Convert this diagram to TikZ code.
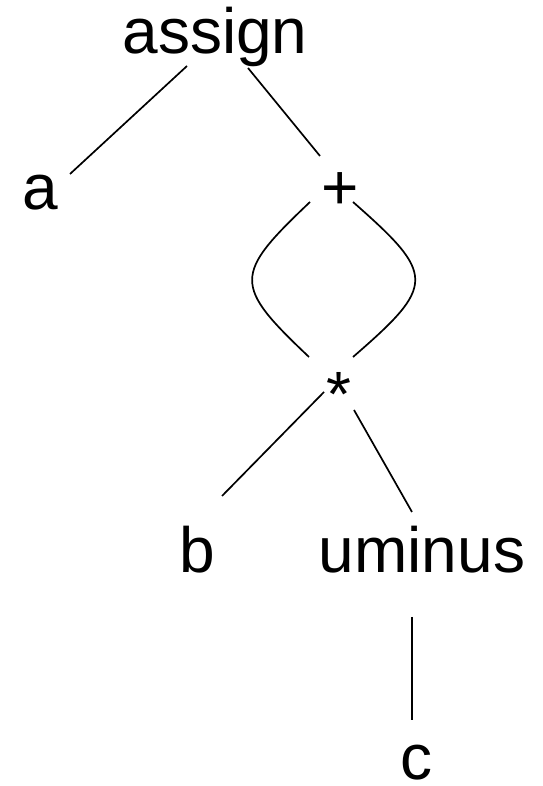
\documentclass[tikz,border=0pt]{standalone}
\usepackage{fontspec}
\setmainfont{Liberation Sans}
\usepackage{tikz}

\begin{document}
\begin{tikzpicture}[x=1pt, y=1pt, line width=1.7pt,
  lbl/.style={inner sep=0pt, anchor=base, font=\fontsize{64}{70}\selectfont}]
  \fill [white] (0, 0) rectangle (542, 786);
  \useasboundingbox (0, 0) rectangle (542, 786);

  \node[lbl] (assign) at (215, 732) {assign};
  \node[lbl] (a) at (40, 576) {a};
  \node[lbl] (plus) at (340, 576) {+};
  \node[lbl] (star) at (339, 369) {*};
  \node[lbl] (b) at (197, 213) {b};
  \node[lbl] (uminus) at (422, 213) {uminus};
  \node[lbl] (c) at (416, 6) {c};

  \draw ([shift={(-28,-12)}]assign.base) -- ([shift={(30,36)}]a.base);
  \draw ([shift={(33,-14)}]assign.base) -- ([shift={(-20,54)}]plus.base);

  % both operands of + share the same * node
  \draw ([shift={(-30,8)}]plus.base) .. controls +(-77,-73) and +(-76,72) .. ([shift={(-30,60)}]star.base);
  \draw ([shift={(13,8)}]plus.base) .. controls +(83,-73) and +(83,72) .. ([shift={(14,60)}]star.base);

  \draw ([shift={(-15,25)}]star.base) -- ([shift={(25,77)}]b.base);
  \draw ([shift={(15,7)}]star.base) -- ([shift={(-10,61)}]uminus.base);
  \draw ([shift={(-10,-44)}]uminus.base) -- ([shift={(-4,60)}]c.base);
\end{tikzpicture}
\end{document}
